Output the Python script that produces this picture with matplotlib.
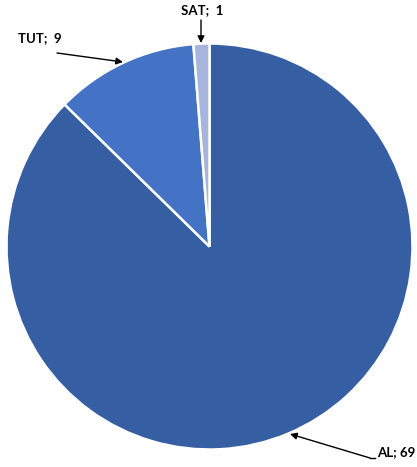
import matplotlib
matplotlib.use("Agg")
import matplotlib.pyplot as plt

categories = ["AL", "TUT", "SAT"]
values = [69, 9, 1]
colors = ["#365FA3", "#4472C4", "#A7B5DD"]

W, H = 417, 467
fig = plt.figure(figsize=(W / 100, H / 100), dpi=100)
ax = fig.add_axes([0, 0, 1, 1])

cx, cy, r = 209.5, H - 246.5, 203
ax.pie(values, colors=colors, startangle=90, counterclock=False,
       center=(cx, cy), radius=r, frame=True,
       wedgeprops=dict(edgecolor="white", linewidth=1.8))
ax.set_xlim(0, W)
ax.set_ylim(0, H)
ax.set_aspect("equal")
ax.axis("off")

font = dict(family=["Lato", "DejaVu Sans"], fontsize=9.5,
            fontweight="bold", color="black")
arrow = dict(arrowstyle="-|>", color="black", lw=1.0, mutation_scale=10, shrinkA=0, shrinkB=0)

labels = [f"{c}; {v}" for c, v in zip(categories, values)]
# AL
ax.text(415, H - 452, labels[0], ha="right", va="center", **font)
ax.plot([370, 375], [H - 458, H - 458], color="black", lw=1.0)
ax.annotate("", xy=(290, H - 434), xytext=(370, H - 458), arrowprops=arrow)
# TUT
ax.text(18, H - 38, labels[1].replace("; ", ";  "), ha="left", va="center", **font)
ax.annotate("", xy=(123, H - 62), xytext=(57, H - 53), arrowprops=arrow)
# SAT
ax.text(202, H - 10, labels[2].replace("; ", ";  "), ha="center", va="center", **font)
ax.annotate("", xy=(201, H - 43), xytext=(201, H - 20), arrowprops=arrow)

fig.savefig("out.png", dpi=100)
